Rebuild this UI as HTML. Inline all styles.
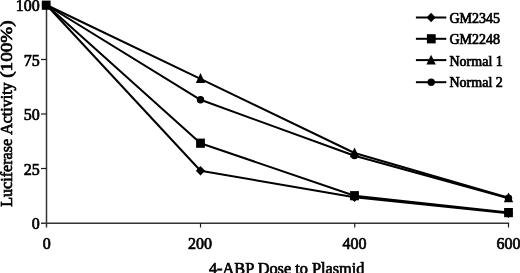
<!DOCTYPE html>
<html><head><meta charset="utf-8">
<style>
html,body{margin:0;padding:0;background:#fff;width:520px;height:273px;overflow:hidden;}
svg{display:block;will-change:transform;}
text{font-family:"Liberation Serif",serif;fill:#000;stroke:#000;stroke-width:0.7px;}
</style></head>
<body>
<svg width="520" height="273" viewBox="0 0 520 273">
<!-- axes -->
<g stroke="#1a1a1a" stroke-width="1.2" fill="none">
<line x1="46.5" y1="6" x2="46.5" y2="227.5" stroke="#333" stroke-width="1.5"/>
<line x1="41" y1="223.2" x2="509.1" y2="223.2" stroke="#333" stroke-width="1.4"/>
<line x1="41.8" y1="5" x2="46.5" y2="5"/>
<line x1="41" y1="59.5" x2="46.5" y2="59.5"/>
<line x1="41" y1="114" x2="46.5" y2="114"/>
<line x1="41" y1="168.5" x2="46.5" y2="168.5"/>
<line x1="200.5" y1="223" x2="200.5" y2="227.5"/>
<line x1="354.75" y1="223" x2="354.75" y2="227.5"/>
<line x1="508.5" y1="223" x2="508.5" y2="227.5"/>
</g>
<!-- y tick labels -->
<g font-size="16" text-anchor="end">
<text x="39.7" y="11">100</text>
<text x="39.7" y="65.5">75</text>
<text x="39.7" y="120">50</text>
<text x="39.7" y="174.5">25</text>
<text x="39.7" y="229">0</text>
</g>
<!-- x tick labels -->
<g font-size="16" text-anchor="middle">
<text x="46.8" y="248.8">0</text>
<text x="200.0" y="248.8">200</text>
<text x="354.4" y="248.8">400</text>
<text x="508.5" y="248.8">600</text>
</g>
<text font-size="16.3" text-anchor="middle" x="286.7" y="273.5">4-ABP Dose to Plasmid</text>
<g font-size="16.2" transform="translate(11.5,0) rotate(-90)">
<text x="-206.8" y="0" textLength="68" lengthAdjust="spacingAndGlyphs">Luciferase</text>
<text x="-134.8" y="0" textLength="52.4" lengthAdjust="spacingAndGlyphs">Activity</text>
<text x="-77.8" y="0" textLength="57.5" lengthAdjust="spacingAndGlyphs">(100%)</text>
</g>
<!-- series lines -->
<g stroke="#000" stroke-width="2" fill="none" stroke-linejoin="round">
<polyline points="46.5,5 200.5,170.7 354.5,197.3 508.5,213.3"/>
<polyline points="46.5,5 200.5,143.2 354.5,195.7 508.5,212.6"/>
<polyline points="46.5,5 200.5,78.8 354.5,153 508.5,197.8"/>
<polyline points="46.5,5 200.5,99.8 354.5,155.8 508.5,198.2"/>
</g>
<!-- markers -->
<g fill="#000">
<path d="M200.50,166.00 L205.10,170.70 L200.50,175.40 L195.90,170.70 Z"/>
<path d="M354.50,192.60 L359.10,197.30 L354.50,202.00 L349.90,197.30 Z"/>
<path d="M508.50,208.60 L513.10,213.30 L508.50,218.00 L503.90,213.30 Z"/>
<rect x="41.80" y="0.60" width="8.8" height="9.2"/>
<rect x="196.10" y="138.60" width="8.8" height="9.2"/>
<rect x="350.10" y="191.10" width="8.8" height="9.2"/>
<rect x="504.10" y="208.00" width="8.8" height="9.2"/>
<path d="M200.50,73.10 L205.20,82.90 L195.80,82.90 Z"/>
<path d="M354.50,147.40 L359.20,157.20 L349.80,157.20 Z"/>
<path d="M508.50,192.50 L513.20,202.30 L503.80,202.30 Z"/>
<circle cx="200.50" cy="99.80" r="3.7"/>
<circle cx="354.50" cy="155.60" r="3.7"/>
<circle cx="508.50" cy="198.20" r="3.7"/>
</g>
<!-- legend -->
<g stroke="#000" stroke-width="2">
<line x1="415.9" y1="17.5" x2="446.3" y2="17.5"/>
<line x1="415.9" y1="38.8" x2="446.3" y2="38.8"/>
<line x1="415.9" y1="60.1" x2="446.3" y2="60.1"/>
<line x1="415.9" y1="82.2" x2="446.3" y2="82.2"/>
</g>
<g fill="#000">
<path d="M431.10,12.80 L435.70,17.50 L431.10,22.20 L426.50,17.50 Z"/>
<rect x="426.90" y="34.20" width="8.8" height="9.2"/>
<path d="M431.10,54.80 L435.80,64.60 L426.40,64.60 Z"/>
<circle cx="431.20" cy="82.20" r="3.7"/>
</g>
<g font-size="14">
<text x="449.5" y="22.7">GM2345</text>
<text x="449.5" y="44.2">GM2248</text>
<text x="449.5" y="65.9">Normal 1</text>
<text x="449.5" y="87.2">Normal 2</text>
</g>
</svg>
</body></html>
